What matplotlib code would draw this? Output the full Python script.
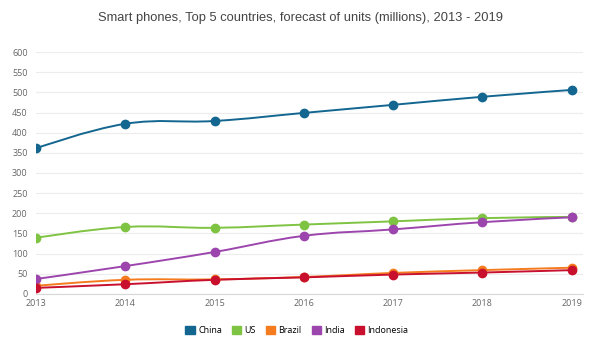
import numpy as np
import matplotlib
matplotlib.use("Agg")
import matplotlib.pyplot as plt
from matplotlib.path import Path
from matplotlib.patches import PathPatch, Patch

years = [2013, 2014, 2015, 2016, 2017, 2018, 2019]

china = [361, 422, 429, 449, 469, 489, 506]
us = [139, 166, 164, 172, 180, 188, 191]
brazil = [20, 35, 36, 42, 52, 59, 65]
india = [37, 69, 104, 144, 160, 178, 190]
indonesia = [15, 24, 35, 41, 48, 53, 59]

names = ["China", "US", "Brazil", "India", "Indonesia"]
colors = ["#12668f", "#7fc342", "#f57b1f", "#9c46ad", "#c8102e"]
series = [china, us, brazil, india, indonesia]


def spline_path(xs, ys, smooth=1.5):
    # highcharts-like spline: bezier control points from neighbours
    verts = [(xs[0], ys[0])]
    codes = [Path.MOVETO]
    n = len(xs)
    ctrl = []
    for i in range(n):
        if i == 0 or i == n - 1:
            ctrl.append(((xs[i], ys[i]), (xs[i], ys[i])))
            continue
        lx = (smooth * xs[i] + xs[i - 1]) / (smooth + 1)
        ly = (smooth * ys[i] + ys[i - 1]) / (smooth + 1)
        rx = (smooth * xs[i] + xs[i + 1]) / (smooth + 1)
        ry = (smooth * ys[i] + ys[i + 1]) / (smooth + 1)
        if rx != lx:
            corr = ((ry - ly) * (rx - xs[i])) / (rx - lx) + ys[i] - ry
            ly += corr
            ry += corr
        ctrl.append(((lx, ly), (rx, ry)))
    for i in range(1, n):
        verts += [ctrl[i - 1][1], ctrl[i][0], (xs[i], ys[i])]
        codes += [Path.CURVE4] * 3
    return Path(verts, codes)


fig = plt.figure(figsize=(6, 3.47), dpi=100)
ax = fig.add_axes([0.06, 0.153, 0.912, 0.697])

for vals, c in zip(series, colors):
    p = spline_path(years, vals)
    ax.add_patch(PathPatch(p, fill=False, edgecolor=c, lw=1.4, zorder=3))
    ax.plot(years, vals, "o", color=c, markersize=6, zorder=4)

ax.set_xlim(2013, 2019.13)
ax.set_ylim(0, 600)
ax.set_yticks(np.arange(0, 601, 50))
ax.set_xticks(years)
ax.grid(axis="y", color="#ececec", lw=0.8)
ax.set_axisbelow(True)
for s in ["top", "right", "left"]:
    ax.spines[s].set_visible(False)
ax.spines["bottom"].set_color("#d8d8d8")
ax.tick_params(axis="y", length=0, labelsize=6.5, labelcolor="#666666", pad=6)
ax.tick_params(axis="x", length=0, labelsize=6.5, labelcolor="#666666", pad=4)
for lab in ax.get_xticklabels() + ax.get_yticklabels():
    lab.set_family("Open Sans")

fig.text(0.5, 0.948, "Smart phones, Top 5 countries, forecast of units (millions), 2013 - 2019",
         ha="center", va="center", fontsize=9.3, color="#444444", family="Liberation Sans")

handles = [Patch(facecolor=c, edgecolor=c, label=n) for n, c in zip(names, colors)]
fig.legend(handles=handles, loc="center", bbox_to_anchor=(0.495, 0.047), ncol=5,
           frameon=False, handlelength=1.0, handleheight=1.0, handletextpad=0.4,
           columnspacing=1.1, prop={"family": "Open Sans", "size": 6.5})

fig.savefig("out.png", dpi=100)
